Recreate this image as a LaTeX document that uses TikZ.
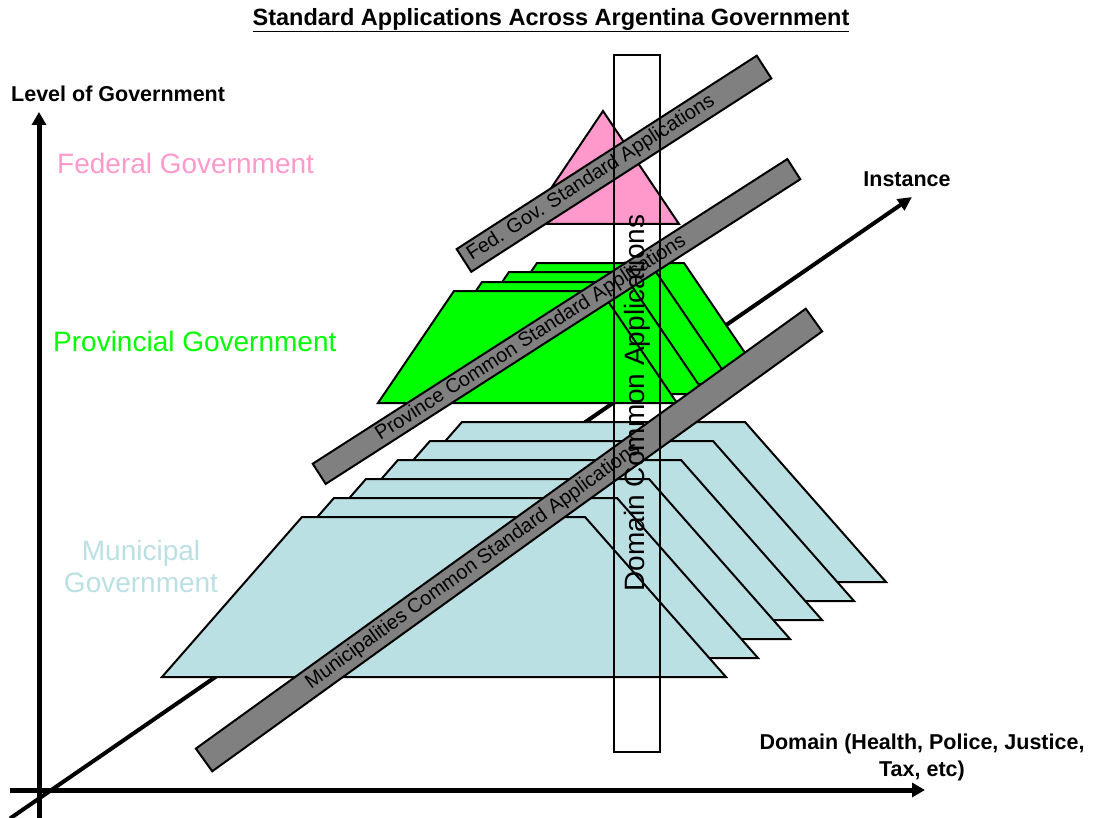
\documentclass[tikz,border=0pt]{standalone}
\usepackage{fontspec}
\setmainfont{Liberation Sans}
\usetikzlibrary{arrows.meta}
\definecolor{fedpink}{RGB}{255,153,204}
\definecolor{provgreen}{RGB}{0,255,0}
\definecolor{munblue}{RGB}{187,224,227}
\definecolor{bargray}{RGB}{128,128,128}
\def\govbar(#1)(#2:#3:#4){\begin{scope}[shift={(#1)},rotate=#2]\draw[line width=2pt, fill=bargray] (-#3/2,-#4/2) rectangle (#3/2,#4/2);\end{scope}}
\tikzset{
	axislbl/.style={inner sep=0pt, font=\bfseries\fontsize{21.5}{27}\selectfont},
	levellbl/.style={inner sep=0pt, font=\fontsize{28}{32}\selectfont},
	bartxt/.style={inner sep=0pt, font=\fontsize{20}{24}\selectfont},
	slab/.style={line width=2pt, line join=miter}
}

\begin{document}
\begin{tikzpicture}[x=1pt,y=-1pt]
			%%%%% START %%%%%
			\useasboundingbox (0,0) rectangle (1094,818);
			
			\coordinate (vbot) at (39,818);
			\coordinate (vtop) at (39,112);
			\coordinate (hleft) at (10,790);
			\coordinate (hright) at (925,790);
			\coordinate (ibot) at (10,818.5);
			\coordinate (itop) at (912,197);
			
			\draw[line width=4pt, -{Triangle[length=14pt,width=13pt]}] (ibot) -- (itop);
			\draw[line width=5pt, -{Triangle[length=13pt,width=14pt]}] (vbot) -- (vtop);
			\draw[line width=5pt, -{Triangle[length=13pt,width=14pt]}] (hleft) -- (hright);
			
			% municipal slabs, back to front
			\draw[slab, fill=munblue] (322,582) -- (886,582) -- (745,422) -- (462,422) -- cycle;
			\draw[slab, fill=munblue] (290,601) -- (854,601) -- (713,441) -- (430,441) -- cycle;
			\draw[slab, fill=munblue] (258,620) -- (822,620) -- (681,460) -- (398,460) -- cycle;
			\draw[slab, fill=munblue] (226,639) -- (790,639) -- (649,479) -- (366,479) -- cycle;
			\draw[slab, fill=munblue] (194,658) -- (758,658) -- (617,498) -- (334,498) -- cycle;
			\draw[slab, fill=munblue] (162,677) -- (726,677) -- (585,517) -- (302,517) -- cycle;
			
			% provincial slabs
			\draw[slab, fill=provgreen] (461,375) -- (760,375) -- (684,263) -- (537,263) -- cycle;
			\draw[slab, fill=provgreen] (433,384) -- (732,384) -- (656,272) -- (509,272) -- cycle;
			\draw[slab, fill=provgreen] (406,394) -- (705,394) -- (629,282) -- (482,282) -- cycle;
			\draw[slab, fill=provgreen] (378,403) -- (677,403) -- (601,291) -- (454,291) -- cycle;
			
			% federal
			\draw[slab, fill=fedpink] (527,224) -- (679,224) -- (603,111) -- cycle;
			
			\node[levellbl, anchor=west, text=fedpink] (fedlbl) at (57,163) {Federal Government};
			\node[levellbl, anchor=west, text=provgreen] (provlbl) at (53,341) {Provincial Government};
			\node[levellbl, align=center, text=munblue] (munlbl) at (141,566) {Municipal\\Government};
			
			\govbar(614,163.75)(32.8:357:27);
			\node[bartxt, rotate=32.8] (fedtxt) at (591,178) {Fed. Gov. Standard Applications};
			\govbar(556.5,321.5)(32.7:564:24);
			\node[bartxt, rotate=32.7] (provtxt) at (531,338) {Province Common Standard Applications};
			\govbar(509,540)(35.8:752:28);
			\node[bartxt, rotate=35.8] (muntxt) at (473,566) {Municipalities Common Standard Applications};
			
			\draw[line width=2pt] (614,55) rectangle (660,752);
			\node[levellbl, rotate=90] (domapps) at (637,403) {Domain Common Applications};
			
			\node[axislbl, font=\bfseries\fontsize{23.5}{28}\selectfont] (title) at (551,20) {\underline{Standard Applications Across Argentina Government}};
			\node[axislbl, anchor=west] (levelaxis) at (11,94) {Level of Government};
			\node[axislbl] (instaxis) at (907,179) {Instance};
			\node[axislbl, align=center] (domaxis) at (922,757) {Domain (Health, Police, Justice,\\Tax, etc)};
			
			%%%%% END %%%%%
		\end{tikzpicture}
\end{document}
